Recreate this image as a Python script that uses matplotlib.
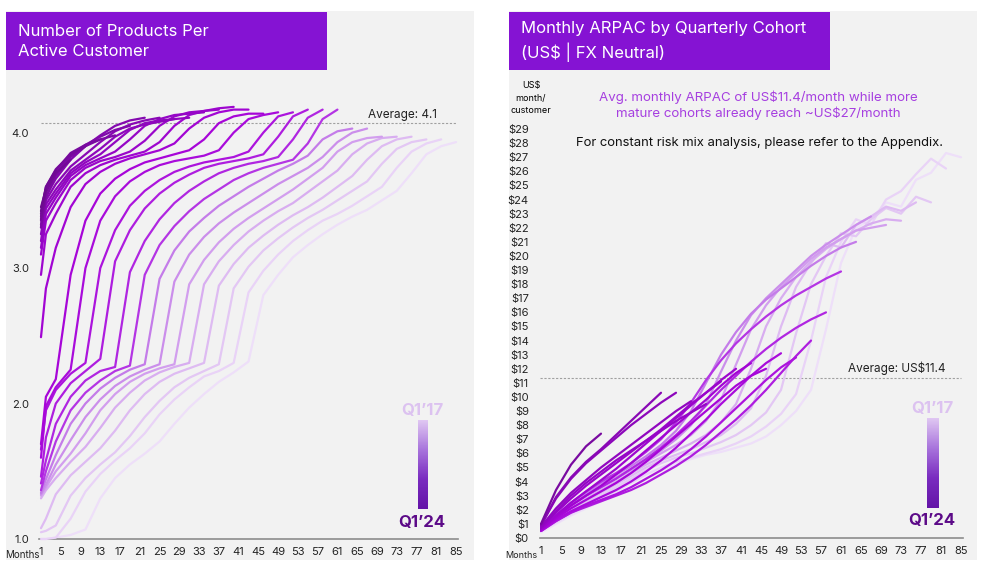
import matplotlib
matplotlib.use("Agg")
import matplotlib.pyplot as plt
import numpy as np
from matplotlib.colors import LinearSegmentedColormap
from matplotlib.patches import Rectangle

plt.rcParams['font.family'] = ['Inter', 'DejaVu Sans']

W, H = 983, 587

# ---- data: products per active customer, cohort 0 = Q1'17 ... 28 = Q1'24
PRODUCT_MONTHS = [1, 2, 4, 7, 10, 13, 16, 19, 22, 25, 28, 31, 34, 37, 40, 43,
                  46, 49, 52, 55, 58, 61, 64, 67, 70, 73, 76, 79, 82, 85]
products = [
    [1.00, 1.00, 1.01, 1.03, 1.07, 1.30, 1.45, 1.55, 1.63, 1.72, 1.85, 1.97, 2.07, 2.16, 2.23, 2.31, 2.80, 2.95, 3.08, 3.17, 3.25, 3.32, 3.38, 3.43, 3.50, 3.57, 3.70, 3.84, 3.90, 3.93],
    [1.00, 1.00, 1.01, 1.15, 1.35, 1.48, 1.58, 1.67, 1.78, 1.92, 2.03, 2.12, 2.20, 2.24, 2.30, 2.82, 2.98, 3.10, 3.20, 3.28, 3.35, 3.40, 3.46, 3.53, 3.60, 3.74, 3.86, 3.92, 3.95],
    [1.05, 1.06, 1.10, 1.32, 1.45, 1.55, 1.64, 1.76, 1.90, 2.02, 2.12, 2.19, 2.24, 2.29, 2.85, 3.01, 3.13, 3.22, 3.30, 3.37, 3.43, 3.50, 3.57, 3.64, 3.77, 3.88, 3.93, 3.95],
    [1.08, 1.15, 1.33, 1.47, 1.57, 1.67, 1.80, 1.95, 2.07, 2.16, 2.22, 2.26, 2.30, 2.87, 3.03, 3.15, 3.24, 3.32, 3.39, 3.45, 3.52, 3.60, 3.68, 3.80, 3.90, 3.95, 3.97],
    [1.30, 1.36, 1.45, 1.57, 1.68, 1.82, 1.97, 2.08, 2.17, 2.23, 2.27, 2.30, 2.88, 3.05, 3.17, 3.27, 3.35, 3.42, 3.48, 3.56, 3.64, 3.72, 3.84, 3.92, 3.96, 3.97],
    [1.32, 1.38, 1.50, 1.63, 1.78, 1.95, 2.07, 2.16, 2.22, 2.26, 2.29, 2.88, 3.06, 3.19, 3.29, 3.37, 3.44, 3.51, 3.58, 3.66, 3.74, 3.86, 3.93, 3.96, 3.97],
    [1.33, 1.40, 1.55, 1.73, 1.90, 2.03, 2.13, 2.20, 2.25, 2.29, 2.90, 3.10, 3.23, 3.33, 3.41, 3.48, 3.55, 3.62, 3.68, 3.74, 3.82, 3.93, 4.00, 4.03],
    [1.34, 1.44, 1.62, 1.85, 2.00, 2.11, 2.19, 2.25, 2.29, 2.92, 3.13, 3.27, 3.37, 3.46, 3.53, 3.60, 3.66, 3.72, 3.77, 3.83, 3.95, 4.01, 4.03],
    [1.36, 1.50, 1.72, 1.95, 2.08, 2.17, 2.24, 2.28, 2.95, 3.17, 3.31, 3.42, 3.51, 3.58, 3.65, 3.70, 3.74, 3.77, 3.80, 3.92, 4.10, 4.17],
    [1.41, 1.58, 1.85, 2.05, 2.17, 2.24, 2.27, 2.97, 3.20, 3.36, 3.48, 3.57, 3.64, 3.70, 3.74, 3.77, 3.79, 3.82, 3.95, 4.11, 4.17],
    [1.46, 1.75, 2.00, 2.15, 2.24, 2.33, 3.05, 3.28, 3.44, 3.55, 3.63, 3.69, 3.74, 3.77, 3.79, 3.81, 3.84, 3.97, 4.12, 4.17],
    [1.66, 1.95, 2.10, 2.22, 2.30, 3.00, 3.28, 3.46, 3.57, 3.65, 3.71, 3.75, 3.78, 3.80, 3.82, 3.86, 4.00, 4.12, 4.15],
    [1.60, 1.98, 2.12, 2.25, 3.00, 3.35, 3.53, 3.64, 3.71, 3.76, 3.79, 3.81, 3.83, 3.87, 4.00, 4.10, 4.13, 4.15],
    [1.70, 2.05, 2.18, 2.95, 3.35, 3.55, 3.66, 3.73, 3.78, 3.81, 3.84, 3.87, 3.95, 4.07, 4.12, 4.14, 4.14],
    [2.49, 2.85, 3.15, 3.45, 3.62, 3.71, 3.77, 3.81, 3.84, 3.87, 3.92, 4.03, 4.11, 4.15, 4.17, 4.17],
    [2.95, 3.25, 3.40, 3.60, 3.70, 3.76, 3.80, 3.83, 3.86, 3.93, 4.05, 4.13, 4.16, 4.18, 4.19],
    [3.10, 3.35, 3.48, 3.65, 3.74, 3.79, 3.82, 3.86, 3.94, 4.05, 4.12, 4.15, 4.16, 4.17],
    [3.15, 3.40, 3.52, 3.68, 3.76, 3.81, 3.86, 3.95, 4.05, 4.10, 4.13, 4.14, 4.15],
    [3.20, 3.44, 3.55, 3.70, 3.78, 3.84, 3.93, 4.02, 4.07, 4.09, 4.10, 4.11],
    [3.25, 3.47, 3.58, 3.72, 3.80, 3.88, 3.97, 4.03, 4.06, 4.08, 4.10],
    [3.30, 3.50, 3.62, 3.75, 3.84, 3.93, 4.01, 4.06, 4.09, 4.11],
    [3.32, 3.53, 3.66, 3.80, 3.90, 3.98, 4.05, 4.09, 4.11],
    [3.35, 3.56, 3.70, 3.83, 3.91, 3.97, 4.02, 4.05],
    [3.30, 3.52, 3.68, 3.82, 3.90, 3.95, 3.98],
    [3.38, 3.58, 3.72, 3.85, 3.91, 3.95],
    [3.40, 3.60, 3.73, 3.84, 3.90],
    [3.36, 3.56, 3.70, 3.80],
    [3.42, 3.60, 3.72],
    [3.45, 3.58],
]
PRODUCTS_AVG = 4.07

# ---- data: monthly ARPAC (US$), cohort index as above
ARPAC_MONTHS = [1, 4, 7, 10, 13, 16, 19, 22, 25, 28, 31, 34, 37, 40, 43,
                46, 49, 52, 55, 58, 61, 64, 67, 70, 73, 76, 79, 82, 85]
arpac_cohorts = list(range(21)) + [24]
arpac = [
    [0.4, 1.0, 1.6, 2.1, 2.6, 3.1, 3.6, 4.2, 4.8, 5.2, 5.6, 5.9, 6.1, 6.4, 6.7, 7.2, 8.0, 9.0, 10.5, 14.8, 19.5, 22.0, 22.6, 23.8, 23.5, 25.4, 25.9, 27.3, 27.0],
    [0.5, 1.1, 1.7, 2.3, 2.8, 3.3, 3.9, 4.5, 5.0, 5.4, 5.7, 6.0, 6.3, 6.7, 7.2, 7.9, 8.8, 10.2, 14.0, 18.5, 21.0, 22.6, 22.2, 24.0, 24.6, 25.8, 26.9, 26.2],
    [0.5, 1.2, 1.9, 2.5, 3.0, 3.6, 4.2, 4.8, 5.3, 5.7, 6.0, 6.4, 6.8, 7.3, 8.0, 8.9, 10.5, 14.5, 18.0, 20.0, 21.6, 21.4, 22.6, 23.4, 23.0, 24.2, 23.8],
    [0.5, 1.3, 2.0, 2.6, 3.2, 3.8, 4.4, 5.0, 5.5, 5.9, 6.3, 6.8, 7.3, 8.1, 9.2, 11.5, 15.0, 17.8, 19.5, 20.9, 20.6, 22.2, 22.8, 23.5, 23.2, 23.8],
    [0.6, 1.4, 2.1, 2.8, 3.4, 4.0, 4.6, 5.2, 5.7, 6.2, 6.7, 7.3, 8.2, 9.5, 12.0, 15.0, 17.0, 18.5, 19.6, 20.5, 21.2, 21.8, 22.3, 22.6, 22.5],
    [0.6, 1.5, 2.3, 3.0, 3.6, 4.2, 4.8, 5.4, 6.0, 6.6, 7.3, 8.3, 9.8, 12.3, 14.8, 16.5, 17.8, 18.8, 19.8, 20.6, 21.2, 21.8, 22.0, 22.2],
    [0.6, 1.6, 2.4, 3.1, 3.7, 4.3, 4.9, 5.5, 6.2, 7.0, 8.0, 9.5, 11.8, 14.0, 15.8, 17.0, 18.0, 19.0, 20.0, 20.8, 21.5, 22.2, 22.8],
    [0.6, 1.6, 2.5, 3.2, 3.9, 4.5, 5.1, 5.8, 6.6, 7.6, 9.0, 11.0, 13.0, 14.6, 15.9, 16.9, 17.7, 18.5, 19.3, 20.0, 20.6, 21.0],
    [0.6, 1.6, 2.5, 3.3, 4.0, 4.6, 5.3, 6.1, 7.0, 8.2, 9.6, 11.2, 12.6, 13.8, 14.8, 15.7, 16.5, 17.2, 17.8, 18.4, 18.9],
    [0.6, 1.5, 2.3, 3.0, 3.6, 4.2, 4.9, 5.6, 6.4, 7.3, 8.3, 9.4, 10.5, 11.5, 12.5, 13.4, 14.2, 14.9, 15.5, 16.0],
    [0.5, 1.2, 1.8, 2.2, 2.6, 3.0, 3.4, 3.9, 4.5, 5.1, 5.8, 6.6, 7.5, 8.4, 9.4, 10.5, 11.7, 12.9, 14.0],
    [0.5, 1.2, 1.8, 2.3, 2.7, 3.1, 3.6, 4.2, 4.8, 5.5, 6.3, 7.2, 8.2, 9.2, 10.2, 11.2, 12.1, 12.8],
    [0.5, 1.3, 1.9, 2.4, 2.9, 3.4, 4.0, 4.7, 5.5, 6.4, 7.4, 8.4, 9.5, 10.5, 11.5, 12.4, 13.1],
    [0.6, 1.4, 2.1, 2.7, 3.3, 3.9, 4.6, 5.4, 6.3, 7.2, 8.1, 9.0, 9.9, 10.8, 11.5, 12.0],
    [0.6, 1.5, 2.3, 3.0, 3.7, 4.5, 5.3, 6.2, 7.1, 8.0, 8.9, 9.8, 10.8, 11.7, 12.4],
    [0.6, 1.6, 2.5, 3.3, 4.1, 4.9, 5.8, 6.7, 7.6, 8.5, 9.4, 10.3, 11.2, 12.0],
    [0.7, 1.8, 2.8, 3.7, 4.5, 5.3, 6.1, 6.9, 7.7, 8.6, 9.5, 10.3, 11.1],
    [0.7, 1.9, 3.0, 3.9, 4.7, 5.5, 6.2, 6.9, 7.6, 8.3, 8.9, 9.5],
    [0.8, 2.1, 3.2, 4.1, 5.0, 5.8, 6.6, 7.4, 8.2, 9.0, 9.7],
    [0.9, 2.8, 4.2, 5.3, 6.2, 7.1, 8.0, 8.8, 9.6, 10.3],
    [0.9, 2.9, 4.3, 5.4, 6.3, 7.3, 8.3, 9.3, 10.3],
    [1.0, 3.4, 5.2, 6.5, 7.4],
]
ARPAC_AVG = 11.35
ARPAC_TICKS = list(range(0, 30))
MONTH_TICKS = list(range(1, 86, 4))
N_COHORTS = 29

cohort_cmap = LinearSegmentedColormap.from_list(
    'cohorts', [(0.0, '#eedff9'), (0.12, '#dcb6f1'), (0.25, '#c47ee9'),
                (0.29, '#b22ee3'), (0.45, '#a805da'), (0.62, '#9406c4'),
                (0.8, '#7f0aa8'), (1.0, '#6c0a8e')])
legend_cmap = LinearSegmentedColormap.from_list('leg', ['#dfc6f2', '#a874dc', '#7a2cc0', '#6414a8'])

PURPLE = '#8513d3'


def frac(x0, y0, x1, y1):
    # pixel box (top-left origin) -> figure fraction [l, b, w, h]
    return [x0 / W, 1 - y1 / H, (x1 - x0) / W, (y1 - y0) / H]


def ftext(x, y, s, **kw):
    fig.text(x / W, 1 - y / H, s, **kw)


fig = plt.figure(figsize=(W / 100, H / 100), dpi=100)
fig.patch.set_facecolor('white')

for x0, x1 in [(6, 474), (509, 977)]:
    l, b, w, h = frac(x0, 11, x1, 560)
    fig.add_artist(Rectangle((l, b), w, h, transform=fig.transFigure,
                             facecolor='#f2f2f2', edgecolor='none', zorder=0))
for x0, x1 in [(6, 327), (509, 830)]:
    l, b, w, h = frac(x0, 12, x1, 70)
    fig.add_artist(Rectangle((l, b), w, h, transform=fig.transFigure,
                             facecolor=PURPLE, edgecolor='none', zorder=0))

ftext(18, 41.5, 'Number of Products Per\nActive Customer', color='white',
      fontsize=12, va='center', ha='left', linespacing=1.38)
ftext(521, 41.5, 'Monthly ARPAC by Quarterly Cohort\n(US$ | FX Neutral)', color='white',
      fontsize=12, va='center', ha='left', linespacing=1.38)


def style_axis(ax):
    ax.set_facecolor('none')
    for s in ['top', 'right', 'left']:
        ax.spines[s].set_visible(False)
    ax.spines['bottom'].set_color('#8c8c8c')
    ax.spines['bottom'].set_linewidth(1.2)
    ax.tick_params(length=0, labelsize=8, colors='#222222')
    ax.set_xticks(MONTH_TICKS)
    ax.set_xticklabels([str(m) for m in MONTH_TICKS])


# ---- left panel
ax1 = fig.add_axes(frac(39, 92, 458, 539))
style_axis(ax1)
ax1.set_xlim(0.6, 85.4)
ax1.set_ylim(1.0, 4.3)
ax1.set_yticks([1, 2, 3, 4])
ax1.set_yticklabels(['1.0', '2.0', '3.0', '4.0'])
ax1.tick_params(axis='y', pad=7)
ax1.tick_params(axis='x', pad=6)
for c, vals in enumerate(products):
    ax1.plot(PRODUCT_MONTHS[:len(vals)], vals, color=cohort_cmap(c / (N_COHORTS - 1)),
             lw=1.6, solid_capstyle='round', solid_joinstyle='round', zorder=2 + c, clip_on=False)
ax1.axhline(PRODUCTS_AVG, xmin=0.005, xmax=0.995, color='#a0a0a0', lw=0.8, ls=(0, (2, 1.5)), zorder=1)
ax1.text(67.2, 4.13, 'Average: 4.1', fontsize=8.5, va='center', ha='left', color='#222222')

# ---- right panel
ax2 = fig.add_axes(frac(540, 122, 963, 538))
style_axis(ax2)
ax2.set_xlim(0.8, 85.4)
ax2.set_ylim(0, 29.5)
ax2.set_yticks(ARPAC_TICKS)
ax2.set_yticklabels(['$' + str(v) for v in ARPAC_TICKS])
ax2.tick_params(axis='y', pad=8)
ax2.tick_params(axis='x', pad=6)
for c, vals in zip(arpac_cohorts, arpac):
    ax2.plot(ARPAC_MONTHS[:len(vals)], vals, color=cohort_cmap(c / (N_COHORTS - 1)),
             lw=1.6, solid_capstyle='round', solid_joinstyle='round', zorder=2 + c)
ax2.axhline(ARPAC_AVG, xmin=0.0, xmax=0.995, color='#a0a0a0', lw=0.8, ls=(0, (2, 1.5)), zorder=1)
ax2.text(82.0, 12.06, 'Average: US$11.4', fontsize=8.5, va='center', ha='right', color='#222222')

ftext(531, 98, 'US$\nmonth/\ncustomer', fontsize=6.5, ha='center', va='center', linespacing=1.45)
ftext(758, 105, 'Avg. monthly ARPAC of US$11.4/month while more\nmature cohorts already reach ~US$27/month',
      fontsize=9.6, color='#a63fe0', ha='center', va='center', linespacing=1.25)
ftext(760, 143, 'For constant risk mix analysis, please refer to the Appendix.',
      fontsize=9.4, color='#111111', ha='center', va='center')

ftext(5, 555, 'Months', fontsize=7, va='center', ha='left', color='#222222')
ftext(537, 556, 'Months', fontsize=6.5, va='center', ha='right', color='#222222')

# ---- gradient legends
grad = np.linspace(0, 1, 64)[:, None]
for (x0, y0, x1, y1), cx, top_y, bot_y in [((418, 420, 428, 509), 422, 411, 523),
                                          ((927, 418, 939, 508), 932, 409, 521)]:
    lax = fig.add_axes(frac(x0, y0, x1, y1))
    lax.imshow(grad, cmap=legend_cmap, aspect='auto')
    lax.axis('off')
    ftext(cx, top_y, 'Q1\u201917', fontsize=12, fontweight='bold', color='#dcc2f0', ha='center', va='center')
    ftext(cx, bot_y, 'Q1\u201924', fontsize=12, fontweight='bold', color='#5c0a88', ha='center', va='center')

fig.savefig('out.png', dpi=100, facecolor='white')
